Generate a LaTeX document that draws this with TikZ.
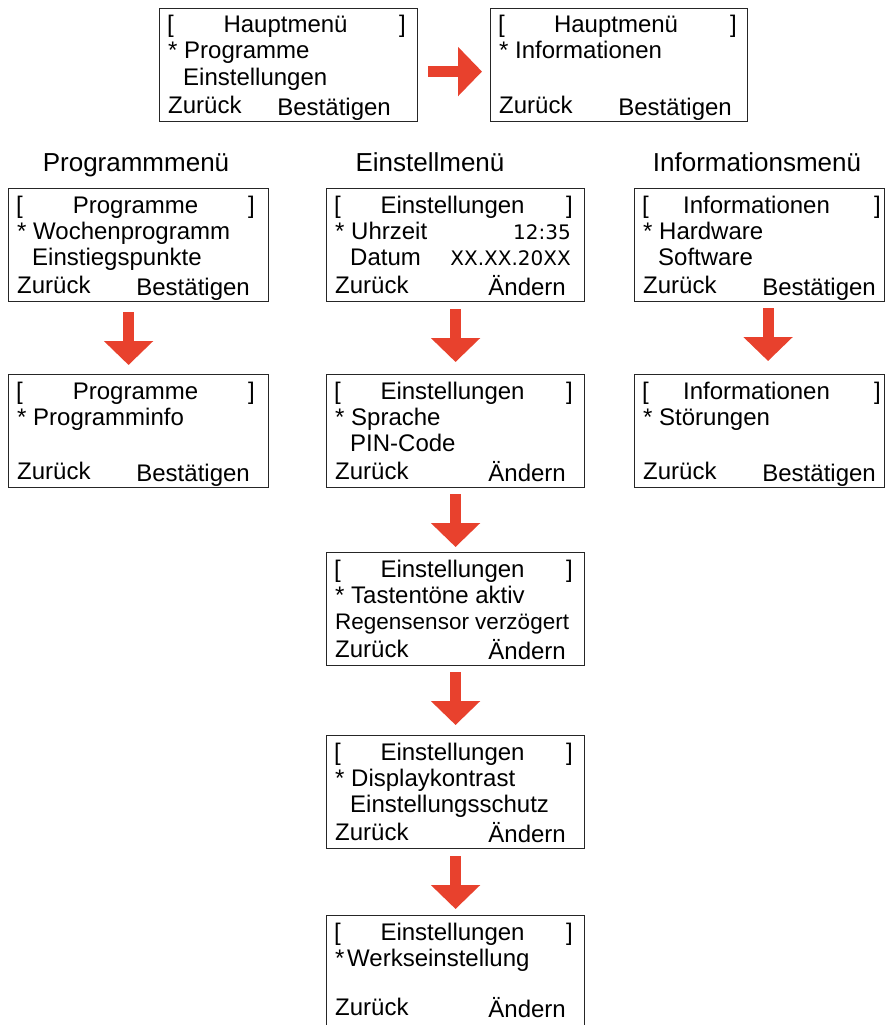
\documentclass[tikz,border=0pt]{standalone}
\usepackage{fontspec}
\setmainfont{Liberation Sans}
\newfontfamily\digitfont{DejaVu Sans}
\usetikzlibrary{arrows.meta}

\definecolor{arrowred}{RGB}{232,65,45}

\tikzset{
  screen/.style={draw=black!85, line width=1.1pt, minimum height=113pt, inner sep=0pt, anchor=north west},
  txt/.style={inner sep=0pt, font=\fontsize{24pt}{28pt}\selectfont},
  digits/.style={inner sep=0pt, font=\digitfont\fontsize{20pt}{24pt}\selectfont},
  heading/.style={inner sep=0pt, anchor=base, font=\fontsize{26pt}{30pt}\selectfont},
  blockarrow/.style={draw=arrowred, line width=11pt, -{Triangle[width=48pt,length=24pt]}},
}

% baseline of the soft keys, below the top edge
\def\keyline{105.5}

% #1 right key end, #2 name, #3 upper left corner, #4 width, #5 title,
% #6 first item, #7 second item, #8 left key, #9 right key
\newcommand{\menuscreen}[9][242pt]{%
  \node[screen, minimum width=#4] (#2) at (#3) {};
  \node[txt, anchor=base west] (#2-open) at ([shift={(8pt,-25pt)}]#2.north west) {[};
  \node[txt, anchor=base] (#2-title) at ([shift={(-3pt,-25pt)}]#2.north) {#5};
  \node[txt, anchor=base east] (#2-close) at ([shift={(247pt,-25pt)}]#2.north west) {]};
  \node[txt, anchor=base west] (#2-star) at ([shift={(9pt,-51pt)}]#2.north west) {*};
  \node[txt, anchor=base west] (#2-first) at ([shift={(25pt,-51pt)}]#2.north west) {#6};
  \node[txt, anchor=base west] (#2-second) at ([shift={(24pt,-77pt)}]#2.north west) {#7};
  \node[txt, anchor=base west] (#2-back) at ([shift={(9pt,-\keyline pt)}]#2.north west) {#8};
  \node[txt, anchor=base east] (#2-ok) at ([shift={(#1,-\keyline pt-2pt)}]#2.north west) {#9};
}

\begin{document}
\begin{tikzpicture}[x=1pt,y=1pt]
  \useasboundingbox (0,-1025) rectangle (885,0);
  \clip (0,-1025) rectangle (885,0);

  % Hauptmenue
  \menuscreen[232pt]{h1}{159,-8}{258pt}{Hauptmenü}{Programme}{Einstellungen}{Zurück}{Bestätigen}
  \menuscreen{h2}{490,-8}{257pt}{Hauptmenü}{Informationen}{}{Zurück}{Bestätigen}
  \draw[blockarrow, shorten <=10pt, shorten >=8pt] ([yshift=-6.5pt]h1.east) -- ([yshift=-6.5pt]h2.west);

  \node[heading] (prog) at (136,-171) {Programmmenü};
  \node[heading] (einst) at (430,-171) {Einstellmenü};
  \node[heading] (info) at (757,-171) {Informationsmenü};

  % Programme
  \menuscreen{p1}{8,-188}{260pt}{Programme}{Wochenprogramm}{Einstiegspunkte}{Zurück}{Bestätigen}
  \menuscreen{p2}{8,-374}{260pt}{Programme}{Programminfo}{}{Zurück}{Bestätigen}
  \draw[blockarrow, shorten <=10pt, shorten >=9pt] ([xshift=-10pt]p1.south) -- ([xshift=-10pt]p2.north);

  % Einstellungen
  \menuscreen[240pt]{e1}{326,-188}{258pt}{Einstellungen}{Uhrzeit}{Datum}{Zurück}{Ändern}
  \node[digits, anchor=base east] (e1-time) at ([shift={(245pt,-51pt)}]e1.north west) {12:35};
  \node[digits, anchor=base east] (e1-date) at ([shift={(245pt,-77pt)}]e1.north west) {XX.XX.20XX};
  \menuscreen[240pt]{e2}{326,-374}{258pt}{Einstellungen}{Sprache}{PIN-Code}{Zurück}{Ändern}
  \menuscreen[240pt]{e3}{326,-552}{258pt}{Einstellungen}{Tastentöne aktiv}{\kern-15pt\fontsize{22.5pt}{26pt}\selectfont Regensensor verzögert}{Zurück}{Ändern}
  \menuscreen[240pt]{e4}{326,-735}{258pt}{Einstellungen}{Displaykontrast}{Einstellungsschutz}{Zurück}{Ändern}
  \def\keyline{100}
  \menuscreen[240pt]{e5}{326,-915}{258pt}{Einstellungen}{\kern-4pt Werkseinstellung}{}{Zurück}{Ändern}
  \draw[blockarrow, shorten <=7pt, shorten >=12pt] (e1.south) -- (e2.north);
  \draw[blockarrow, shorten <=6pt, shorten >=5pt] (e2.south) -- (e3.north);
  \draw[blockarrow, shorten <=6pt, shorten >=10pt] (e3.south) -- (e4.north);
  \draw[blockarrow, shorten <=7pt, shorten >=6pt] (e4.south) -- (e5.north);
  \def\keyline{105.5}

  % Informationen
  \menuscreen{i1}{634,-188}{250pt}{Informationen}{Hardware}{Software}{Zurück}{Bestätigen}
  \menuscreen{i2}{634,-374}{250pt}{Informationen}{Störungen}{}{Zurück}{Bestätigen}
  \draw[blockarrow, shorten <=6pt, shorten >=13pt] ([xshift=8.5pt]i1.south) -- ([xshift=8.5pt]i2.north);
\end{tikzpicture}
\end{document}
